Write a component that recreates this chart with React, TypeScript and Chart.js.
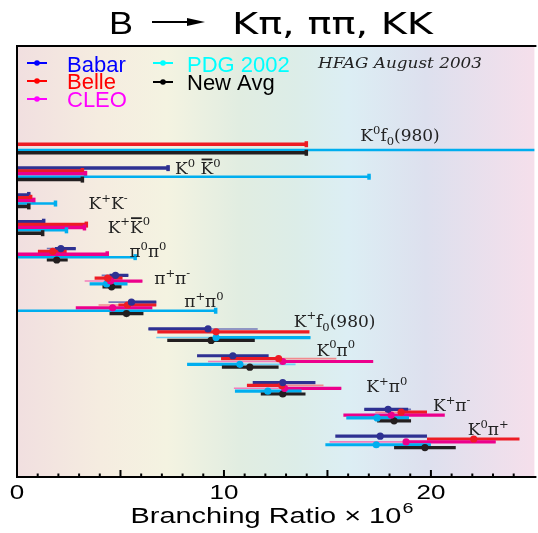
import React, { useEffect, useRef } from "react";
import { Chart, registerables } from "chart.js";

Chart.register(...registerables);

// ---------- categories ----------
const decayLabels = [
  "K^0f_0(980)", "K^0 ~K^0", "K^+K^-", "K^+~K^0", "π^0π^0", "π^+π^-",
  "π^+π^0", "K^+f_0(980)", "K^0π^0", "K^+π^0", "K^+π^-", "K^0π^+",
];
const labelX = [16.59, 7.64, 3.46, 4.38, 5.43, 6.63, 8.08, 13.37, 14.47, 16.88, 20.1, 21.78];
const labelY = [-0.22, 0, 0.3, 0.19, 0.11, 0.11, -0.04, -0.3, -0.22, 0.15, -0.15, -0.26];

const experiments = ["Babar", "Belle", "CLEO", "PDG 2002", "New Avg"];
const barColors = ["#2e3192", "#ed1c24", "#ec008c", "#00aeef", "#231f20"];
const thinColors = ["#7479b8", "#f28a8e", "#f27dbd", "#6fd0f4", "#555555"];
const legendColors = ["#0000ff", "#ff0000", "#ff00ff", "#00ffff", "#000000"];
const ulWidths = [3.5, 3.5, 3.5, 2.5, 3.5];

// ---------- series (branching ratio x 10^6) ----------
const N = null;
const babarVal = [N, N, N, N, 2.12, 4.76, 5.53, 9.23, 10.43, 12.84, 17.93, 17.55];
const babarLo = [N, N, N, N, 1.44, 4.09, 4.42, 6.35, 8.7, 11.39, 16.78, 15.38];
const babarHi = [N, N, N, N, 2.84, 5.38, 6.73, 11.63, 12.16, 14.42, 19.04, 19.81];
const babarThickLo = [N, N, N, N, 1.83, 4.47, 5.43, 6.35, N, N, 16.78, N];
const babarThickHi = [N, N, N, N, 2.84, 5.38, 6.73, 9.23, N, N, 18.9, N];
const babarUL = [N, 7.36, 0.63, 1.35, N, N, N, N, N, N, N, N];

const belleVal = [N, N, N, N, 1.73, 4.38, 5.34, 9.62, 12.64, 12.79, 18.56, 22.07];
const belleLo = [N, N, N, N, 1.01, 3.75, 3.94, 6.78, 9.86, 11.11, 17.31, 19.81];
const belleHi = [N, N, N, N, 2.4, 5.1, 6.73, 14.13, 15.43, 14.81, 19.81, 24.28];
const belleThickLo = [N, N, N, N, N, N, 4.9, N, 9.86, 11.11, 18.41, N];
const belleThickHi = [N, N, N, N, N, N, 6.73, N, 12.64, 12.79, 19.81, N];
const belleUL = [14.04, 3.22, 0.72, 3.41, N, N, N, N, N, N, N, N];

const cleoVal = [N, N, N, N, N, 4.52, 4.62, N, 12.84, 12.93, 18.08, 18.8];
const cleoLo = [N, N, N, N, N, 3.27, 2.84, N, 9.23, 10.48, 15.77, 15.1];
const cleoHi = [N, N, N, N, N, 6.06, 6.54, N, 17.21, 15.67, 20.67, 23.13];
const cleoThickLo = [N, N, N, N, N, 4.52, N, N, 12.84, 12.93, N, 18.8];
const cleoThickHi = [N, N, N, N, N, 6.06, N, N, 17.21, 15.67, N, 23.13];
const cleoUL = [N, 3.37, 0.87, 3.32, 4.42, N, N, N, N, N, N, N];

const pdgVal = [N, N, N, N, N, 4.33, N, 9.62, 10.77, 12.12, 17.4, 17.36];
const pdgLo = [N, N, N, N, N, 3.51, N, 6.73, 8.22, 10.53, 15.91, 14.9];
const pdgHi = [N, N, N, N, N, 5.34, N, 14.18, 13.46, 13.75, 18.94, 20.0];
const pdgThickLo = [N, N, N, N, N, N, N, 9.62, 8.22, N, N, N];
const pdgThickHi = [N, N, N, N, N, N, N, 14.18, 10.77, N, N, N];
const pdgUL = [30, 17.07, 1.92, 2.45, 5.77, N, 9.66, N, N, N, N, N];

const avgVal = [N, N, N, N, 1.92, 4.57, 5.29, 9.38, 11.25, 12.84, 18.22, 19.71];
const avgLo = [N, N, N, N, 1.44, 4.13, 4.47, 7.26, 9.9, 11.78, 17.4, 18.22];
const avgHi = [N, N, N, N, 2.45, 5.05, 6.11, 11.49, 12.64, 13.94, 19.04, 21.2];
const avgThickLo = [N, N, N, N, N, N, N, N, N, N, N, N];
const avgThickHi = [N, N, N, N, N, N, N, N, N, N, N, N];
const avgUL = [14.04, 3.22, 0.63, 1.3, N, N, N, N, N, N, N, N];

const xTickLabels = [0, 10, 20];

// assembled tables for the library
const vals = [babarVal, belleVal, cleoVal, pdgVal, avgVal];
const los = [babarLo, belleLo, cleoLo, pdgLo, avgLo];
const his = [babarHi, belleHi, cleoHi, pdgHi, avgHi];
const tLos = [babarThickLo, belleThickLo, cleoThickLo, pdgThickLo, avgThickLo];
const tHis = [babarThickHi, belleThickHi, cleoThickHi, pdgThickHi, avgThickHi];
const uls = [babarUL, belleUL, cleoUL, pdgUL, avgUL];

const rowStep = 0.107;
const rowY = (i: number, k: number) => i + (k - 2) * rowStep;

const bgStops: [number, string][] = [
  [0, "#f1dfe0"],
  [0.16, "#f5ece0"],
  [0.29, "#f4f3e1"],
  [0.43, "#e1ede1"],
  [0.54, "#dcede8"],
  [0.64, "#dceef4"],
  [0.79, "#dde0ee"],
  [1, "#f5dfeb"],
];

function drawRich(ctx: CanvasRenderingContext2D, text: string, x: number, y: number, size: number) {
  let cx = x;
  let i = 0;
  while (i < text.length) {
    let ch = text[i];
    let mode = "n";
    let bar = false;
    if (ch === "^") { mode = "sup"; i++; ch = text[i]; }
    else if (ch === "_") { mode = "sub"; i++; ch = text[i]; }
    else if (ch === "~") { bar = true; i++; ch = text[i]; }
    const fs = mode === "n" ? size : size * 0.68;
    ctx.font = `${fs}px 'DejaVu Serif'`;
    const dy = mode === "sup" ? -size * 0.42 : mode === "sub" ? size * 0.24 : 0;
    ctx.fillText(ch, cx, y + dy);
    const w = ctx.measureText(ch).width;
    if (bar) ctx.fillRect(cx + 1, y - size * 0.9, w - 2, 1.8);
    cx += w;
    i++;
  }
}

function fitText(ctx: CanvasRenderingContext2D, text: string, x: number, y: number, font: string, width: number) {
  ctx.font = font;
  const w = ctx.measureText(text).width;
  ctx.save();
  ctx.translate(x, y);
  ctx.scale(width / w, 1);
  ctx.fillText(text, 0, 0);
  ctx.restore();
}

const hfagPlugin = {
  id: "hfag",
  beforeDraw(chart: any) {
    const { ctx, chartArea: a } = chart;
    ctx.save();
    ctx.fillStyle = "#ffffff";
    ctx.fillRect(0, 0, chart.width, chart.height);
    const g = ctx.createLinearGradient(a.left, 0, a.right, 0);
    bgStops.forEach(([p, c]) => g.addColorStop(p, c));
    ctx.fillStyle = g;
    ctx.fillRect(a.left, a.top, a.right - a.left, a.bottom - a.top);
    ctx.restore();
  },
  beforeDatasetsDraw(chart: any) {
    const { ctx, chartArea: a } = chart;
    const xs = chart.scales.x;
    const ys = chart.scales.y;
    ctx.save();
    ctx.beginPath();
    ctx.rect(a.left, a.top, a.right - a.left, a.bottom - a.top);
    ctx.clip();
    ctx.lineCap = "butt";
    const seg = (x1: number, x2: number, y: number, w: number, c: string) => {
      ctx.strokeStyle = c;
      ctx.lineWidth = w;
      ctx.beginPath();
      ctx.moveTo(xs.getPixelForValue(x1), y);
      ctx.lineTo(xs.getPixelForValue(x2), y);
      ctx.stroke();
    };
    decayLabels.forEach((_, i) => {
      experiments.forEach((__, k) => {
        const y = ys.getPixelForValue(rowY(i, k));
        const ul = uls[k][i];
        if (ul != null) {
          seg(0, ul, y, ulWidths[k], barColors[k]);
          const px = xs.getPixelForValue(ul);
          ctx.fillStyle = barColors[k];
          ctx.fillRect(px - 3, y - 3, 3.5, 6);
        }
        const v = vals[k][i];
        if (v != null) {
          const lo = los[k][i] as number;
          const hi = his[k][i] as number;
          const tl = tLos[k][i];
          const th = tHis[k][i];
          if (tl != null && th != null) {
            seg(lo, hi, y, 1.6, thinColors[k]);
            seg(tl, th, y, 3.2, barColors[k]);
          } else {
            seg(lo, hi, y, 3.2, barColors[k]);
          }
        }
      });
    });
    ctx.restore();
  },
  afterDatasetsDraw(chart: any) {
    const { ctx, chartArea: a } = chart;
    const xs = chart.scales.x;
    const ys = chart.scales.y;
    ctx.save();
    // frame
    ctx.strokeStyle = "#000";
    ctx.lineWidth = 2;
    ctx.beginPath();
    ctx.moveTo(a.right + 2, a.top);
    ctx.lineTo(a.left, a.top);
    ctx.lineTo(a.left, a.bottom);
    ctx.lineTo(a.right + 2, a.bottom);
    ctx.stroke();
    // ticks
    for (let v = 1; v < 25; v++) {
      const px = xs.getPixelForValue(v);
      const len = v % 5 === 0 ? 7 : 3.5;
      ctx.beginPath();
      ctx.moveTo(px, a.bottom);
      ctx.lineTo(px, a.bottom - len);
      ctx.stroke();
    }
    // tick labels
    ctx.fillStyle = "#000";
    ctx.textBaseline = "alphabetic";
    xTickLabels.forEach((t) => {
      const px = xs.getPixelForValue(t);
      const s = String(t);
      ctx.font = "20px 'Liberation Sans'";
      const w = ctx.measureText(s).width * 1.3;
      fitText(ctx, s, px - w / 2, a.bottom + 22, "20px 'Liberation Sans'", w);
    });
    // axis title
    ctx.font = "22px 'Liberation Sans'";
    const main = "Branching Ratio × 10";
    const mw = ctx.measureText(main).width;
    ctx.font = "15px 'Liberation Sans'";
    const sw = ctx.measureText("6").width;
    const sx = 283 / (mw + sw + 1);
    const tx0 = 272 - 283 / 2;
    ctx.save();
    ctx.translate(tx0, 523);
    ctx.scale(sx, 1);
    ctx.font = "22px 'Liberation Sans'";
    ctx.fillText(main, 0, 0);
    ctx.font = "15px 'Liberation Sans'";
    ctx.fillText("6", mw + 1, -10);
    ctx.restore();
    // title
    fitText(ctx, "B", 109, 34, "31px 'Liberation Sans'", 24);
    ctx.lineWidth = 2;
    ctx.beginPath();
    ctx.moveTo(152, 22);
    ctx.lineTo(190, 22);
    ctx.stroke();
    ctx.beginPath();
    ctx.moveTo(187, 18);
    ctx.lineTo(205, 22);
    ctx.lineTo(187, 26);
    ctx.closePath();
    ctx.fill();
    fitText(ctx, "Kπ, ππ, KK", 232, 34, "31px 'DejaVu Sans'", 201);
    // legend
    const legPos = [
      [27, 63, 67, 65],
      [27, 81, 67, 82],
      [27, 99, 67, 100],
      [153, 63, 187, 65],
      [153, 82, 187, 83],
    ];
    experiments.forEach((name, k) => {
      const [mx, my, tx, ty] = legPos[k];
      ctx.strokeStyle = legendColors[k];
      ctx.fillStyle = legendColors[k];
      ctx.lineWidth = 2;
      ctx.beginPath();
      ctx.moveTo(mx, my);
      ctx.lineTo(mx + 20, my);
      ctx.stroke();
      ctx.beginPath();
      ctx.arc(mx + 10, my, 2.8, 0, Math.PI * 2);
      ctx.fill();
      ctx.textBaseline = "middle";
      ctx.font = "22px 'Liberation Sans'";
      ctx.fillText(name, tx, ty + 1);
    });
    ctx.textBaseline = "middle";
    ctx.fillStyle = "#222";
    fitText(ctx, "HFAG August 2003", 318, 64, "italic 15px 'DejaVu Serif'", 164);
    // decay labels
    ctx.textBaseline = "alphabetic";
    ctx.fillStyle = "#222222";
    decayLabels.forEach((lab, i) => {
      drawRich(ctx, lab, xs.getPixelForValue(labelX[i]), ys.getPixelForValue(i + labelY[i]), 17);
    });
    ctx.restore();
  },
};

export default function App() {
  const ref = useRef<HTMLCanvasElement>(null);
  useEffect(() => {
    const canvas = ref.current as HTMLCanvasElement;
    const datasets = experiments.map((name, k) => ({
      label: name,
      data: vals[k]
        .map((v, i) => (v == null ? null : { x: v, y: rowY(i, k) }))
        .filter((p) => p !== null) as { x: number; y: number }[],
      pointRadius: 3.6,
      pointHoverRadius: 3.6,
      backgroundColor: barColors[k],
      borderColor: barColors[k],
      borderWidth: 0,
    }));
    const chart = new Chart(canvas, {
      type: "scatter",
      data: { datasets },
      options: {
        responsive: false,
        animation: false,
        events: [],
        layout: { padding: { left: 17, right: 1, top: 46, bottom: 56 } },
        plugins: {
          legend: { display: false },
          tooltip: { enabled: false },
          title: { display: false },
        },
        scales: {
          x: { type: "linear", min: 0, max: 25, display: false },
          y: { type: "linear", min: -3.77, max: 12.31, reverse: true, display: false },
        },
      },
      plugins: [hfagPlugin],
    } as any);
    return () => chart.destroy();
  }, []);
  return (
    <div style={{ position: "fixed", left: 0, top: 0, width: 538, height: 533, background: "#fff" }}>
      <canvas ref={ref} width={538} height={533} style={{ display: "block", width: 538, height: 533 }} />
    </div>
  );
}
